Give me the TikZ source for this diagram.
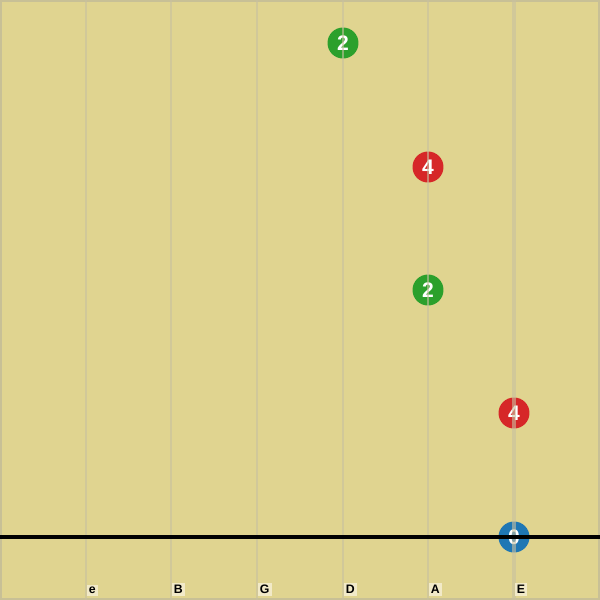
\documentclass[tikz,border=0pt]{standalone}
\usepackage{fontspec}
\setmainfont{Liberation Sans}
\definecolor{bg}{RGB}{224,212,144}
\definecolor{strc}{RGB}{200,192,160}
\definecolor{frame}{RGB}{200,192,150}
\definecolor{lblbg}{RGB}{242,234,200}
\definecolor{dgreen}{RGB}{44,160,44}
\definecolor{dred}{RGB}{214,39,40}
\definecolor{dblue}{RGB}{31,119,180}
\tikzset{
  dot/.style={circle,minimum size=0.62cm,inner sep=0pt,text=white,font=\fontsize{12}{12}\selectfont\bfseries},
  strline/.style={draw=strc,opacity=0.6},
  lbl/.style={fill=lblbg,anchor=south west,inner sep=1.2pt,font=\fontsize{7}{7}\selectfont\bfseries,text=black}
}
\begin{document}
\begin{tikzpicture}[x=0.02cm,y=-0.02cm]
\fill[bg] (0,0) rectangle (600,600);
\useasboundingbox (0,0) rectangle (600,600);
\draw[frame,line width=1.2pt] (0.6,0.6) rectangle (599.4,599.4);
% dots
\node[dot,fill=dgreen] (d1) at (343,43) {2};
\node[dot,fill=dred] (d2) at (428,167) {4};
\node[dot,fill=dgreen] (d3) at (428,290) {2};
\node[dot,fill=dred] (d4) at (514,413) {4};
\node[dot,fill=dblue] (d5) at (514,537) {0};
% strings
\foreach \n/\x/\w in {s1/86/0.6,s2/171/0.85,s3/257/1.1,s4/343/1.35,s5/428/1.6,s6/514/1.85}{
  \coordinate (\n t) at (\x,0);
  \coordinate (\n b) at (\x,600);
  \draw[strline,line width=\w pt] (\n t) -- (\n b);
}
% nut
\coordinate (nl) at (0,537);
\coordinate (nr) at (600,537);
\draw[black,line width=1.8pt] (nl) -- (nr);
% labels
\node[lbl] (l1) at (86.5,596) {e};
\node[lbl] (l2) at (171.5,596) {B};
\node[lbl] (l3) at (257.5,596) {G};
\node[lbl] (l4) at (343.5,596) {D};
\node[lbl] (l5) at (428.5,596) {A};
\node[lbl] (l6) at (514.5,596) {E};
\end{tikzpicture}
\end{document}
